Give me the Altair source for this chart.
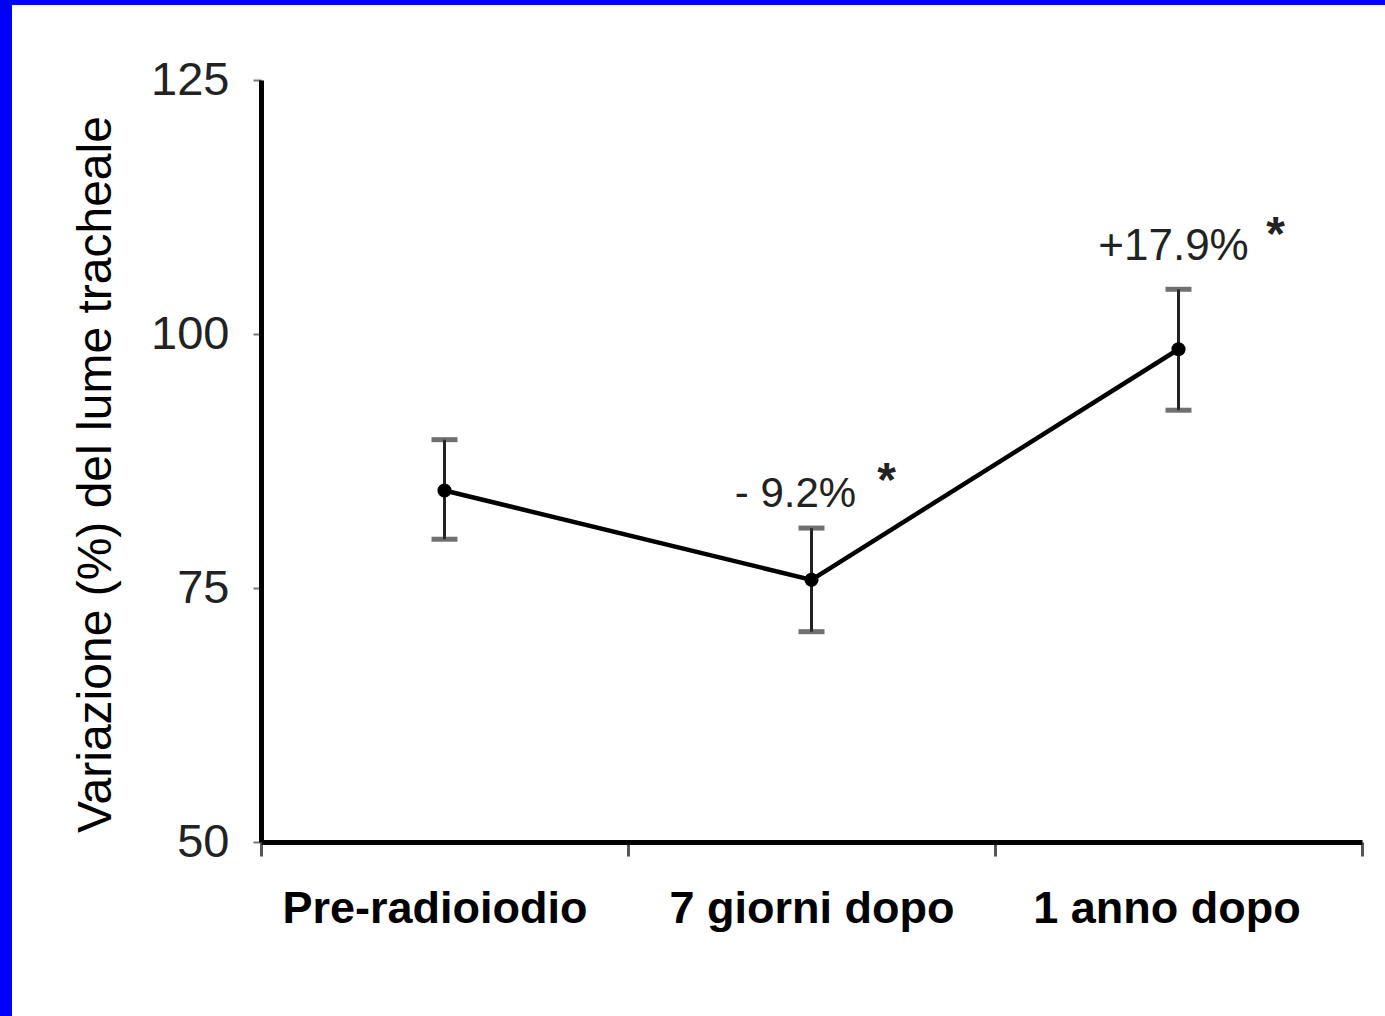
import altair as alt
import pandas as pd

categories = ["Pre-radioiodio", "7 giorni dopo", "1 anno dopo"]
means = [84.6, 75.8, 98.5]
err_low = [79.8, 70.7, 92.5]
err_high = [89.6, 80.9, 104.4]

ann_cat = ["7 giorni dopo", "7 giorni dopo", "1 anno dopo", "1 anno dopo"]
ann_val = [83.0, 84.1, 107.3, 108.3]
ann_text = ["- 9.2%", "*", "+17.9%", "*"]
ann_dx = [-16, 75, -5, 97]
ann_size = [42, 48, 44, 48]
ann_weight = ["normal", "bold", "normal", "bold"]

df = pd.DataFrame({"cat": categories, "mean": means, "lo": err_low, "hi": err_high})
ann = pd.DataFrame({"cat": ann_cat, "val": ann_val, "text": ann_text, "dx": ann_dx,
                    "size": ann_size, "weight": ann_weight})

FONT = "Liberation Sans"

xscale = alt.Scale(domain=categories, paddingInner=0, paddingOuter=0)
yscale = alt.Scale(domain=[50, 125], nice=False, zero=False)

label_offset = {
    "condition": [
        {"test": "datum.value == 'Pre-radioiodio'", "value": -10},
        {"test": "datum.value == '1 anno dopo'", "value": -12},
    ],
    "value": 0,
}

xaxis = alt.Axis(title=None, tickBand="extent", domainColor="black", domainWidth=5,
                 tickColor="#555", tickWidth=3, tickSize=14,
                 labelFont=FONT, labelFontSize=45, labelFontWeight="bold",
                 labelColor="black", labelPadding=30, labelAngle=0, labelLimit=0,
                 labelOffset=label_offset)
yaxis = alt.Axis(title="Variazione (%) del lume tracheale", values=[50, 75, 100, 125],
                 grid=False, domainColor="black", domainWidth=5,
                 tickColor="#777", tickWidth=2, tickSize=8,
                 labelFont=FONT, labelFontSize=47, labelColor="#222", labelPadding=24,
                 labelFontWeight=500,
                 titleFont=FONT, titleFontSize=48, titleFontWeight="normal",
                 titleColor="black", titlePadding=30, titleY=394, titleLimit=0)

base = alt.Chart(df)
X = alt.X("cat:N", scale=xscale, axis=xaxis, sort=categories)

one = alt.Chart(pd.DataFrame({"a": [0]}))
left_band = one.mark_rect(color="#0000ff").encode(
    x=alt.value(-261), x2=alt.value(-249), y=alt.value(-80), y2=alt.value(936))
top_band = one.mark_rect(color="#0000ff").encode(
    x=alt.value(-261), x2=alt.value(1124), y=alt.value(-80), y2=alt.value(-75))

rules = base.mark_rule(color="#222", strokeWidth=3).encode(
    x=X, y=alt.Y("lo:Q", scale=yscale, axis=yaxis), y2="hi:Q")
cap_lo = base.mark_tick(color="#333", size=26, thickness=5).encode(
    x=alt.X("cat:N", scale=xscale, sort=categories), y=alt.Y("lo:Q", scale=yscale))
cap_hi = base.mark_tick(color="#333", size=26, thickness=5).encode(
    x=alt.X("cat:N", scale=xscale, sort=categories), y=alt.Y("hi:Q", scale=yscale))
line = base.mark_line(color="black", strokeWidth=4.5).encode(
    x=alt.X("cat:N", scale=xscale, sort=categories), y=alt.Y("mean:Q", scale=yscale))
points = base.mark_point(filled=True, color="black", size=200, opacity=1).encode(
    x=alt.X("cat:N", scale=xscale, sort=categories), y=alt.Y("mean:Q", scale=yscale))

texts = []
for i in range(len(ann_text)):
    sub = ann.iloc[[i]]
    t = alt.Chart(sub).mark_text(font=FONT, fontSize=int(ann_size[i]), fontWeight=ann_weight[i],
                                 color="#222", baseline="alphabetic", align="center",
                                 dx=int(ann_dx[i])).encode(
        x=alt.X("cat:N", scale=xscale, sort=categories),
        y=alt.Y("val:Q", scale=yscale),
        text="text:N")
    texts.append(t)

chart = alt.layer(left_band, top_band, rules, cap_lo, cap_hi, line, points, *texts).properties(
    width=1101, height=762,
    padding={"left": 261, "top": 80, "right": 23, "bottom": 174},
    autosize=alt.AutoSizeParams(type="none"),
    background="white",
).configure_view(stroke=None)

chart.save("out.html", embed_options={"renderer": "svg", "actions": False})
